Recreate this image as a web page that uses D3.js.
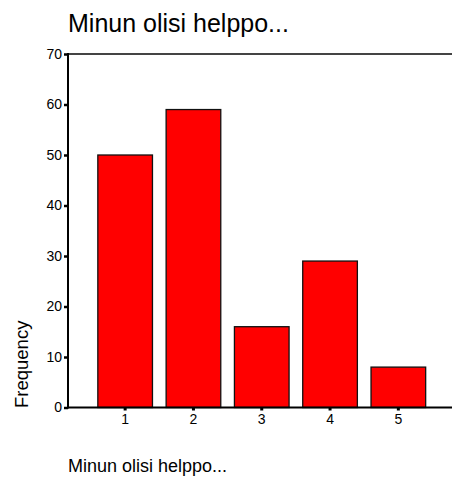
<!DOCTYPE html>
<html>
<head>
    <script src="https://d3js.org/d3.v7.min.js"></script>
    <style>
        body { margin: 0; background: #fff; }
        text { font-family: "Liberation Sans", Arial, sans-serif; fill: #000; }
    </style>
</head>
<body>
    <div id="chart"></div>

    <script>
        // Data
        var categories = ["1", "2", "3", "4", "5"];
        var frequencies = [50, 59, 16, 29, 8];
        var yTicks = [0, 10, 20, 30, 40, 50, 60, 70];
        var title = "Minun olisi helppo...";
        var xTitle = "Minun olisi helppo...";
        var yTitle = "Frequency";

        var data = categories.map(function(c, i) {
            return { category: c, value: frequencies[i] };
        });

        var width = 452, height = 477;
        var plotLeft = 68, plotTop = 54, plotBottom = 407.5, plotRight = 452;

        var svg = d3.select("#chart")
            .append("svg")
            .attr("width", width)
            .attr("height", height);

        var x = d3.scaleBand()
            .domain(categories)
            .range([91, 432.5])
            .paddingInner(0.2)
            .paddingOuter(0.1);

        var y = d3.scaleLinear()
            .domain([0, 70])
            .range([plotBottom, plotTop]);

        // title
        svg.append("text")
            .attr("x", plotLeft)
            .attr("y", 32)
            .style("font-size", "25px")
            .text(title);

        // top frame line
        svg.append("line")
            .attr("x1", plotLeft).attr("x2", plotRight)
            .attr("y1", plotTop).attr("y2", plotTop)
            .attr("stroke", "#444")
            .attr("stroke-width", 2);

        // bars
        svg.selectAll(".bar")
            .data(data)
            .enter().append("rect")
            .attr("class", "bar")
            .attr("x", function(d) { return x(d.category); })
            .attr("width", x.bandwidth())
            .attr("y", function(d) { return y(d.value); })
            .attr("height", function(d) { return plotBottom - y(d.value); })
            .attr("fill", "#ff0000")
            .attr("stroke", "#111")
            .attr("stroke-width", 1.3);

        // y axis
        var yAxis = svg.append("g")
            .attr("transform", "translate(" + plotLeft + ",0)")
            .call(d3.axisLeft(y).tickValues(yTicks).tickSize(4).tickSizeOuter(0).tickPadding(2));
        yAxis.select(".domain").remove();
        yAxis.selectAll(".tick line").attr("stroke", "#000").attr("stroke-width", 2.5);
        yAxis.selectAll(".tick text")
            .attr("fill", "#000")
            .style("font-size", "14px")
            .style("font-family", "'Liberation Sans', Arial, sans-serif");

        svg.append("line")
            .attr("x1", plotLeft).attr("x2", plotLeft)
            .attr("y1", plotTop - 1).attr("y2", plotBottom + 1)
            .attr("stroke", "#000")
            .attr("stroke-width", 2);

        // x axis
        var xAxis = svg.append("g")
            .attr("transform", "translate(0," + plotBottom + ")")
            .call(d3.axisBottom(x).tickSize(3).tickSizeOuter(0).tickPadding(4));
        xAxis.select(".domain").remove();
        xAxis.selectAll(".tick line").attr("stroke", "#000").attr("stroke-width", 3);
        xAxis.selectAll(".tick text")
            .attr("fill", "#000")
            .style("font-size", "14px")
            .style("font-family", "'Liberation Sans', Arial, sans-serif");

        svg.append("line")
            .attr("x1", plotLeft - 1).attr("x2", plotRight)
            .attr("y1", plotBottom).attr("y2", plotBottom)
            .attr("stroke", "#000")
            .attr("stroke-width", 2);

        // axis titles
        svg.append("text")
            .attr("transform", "translate(28,408) rotate(-90)")
            .style("font-size", "18.5px")
            .text(yTitle);

        svg.append("text")
            .attr("x", plotLeft)
            .attr("y", 471.5)
            .style("font-size", "18px")
            .text(xTitle);
    </script>
</body>
</html>
